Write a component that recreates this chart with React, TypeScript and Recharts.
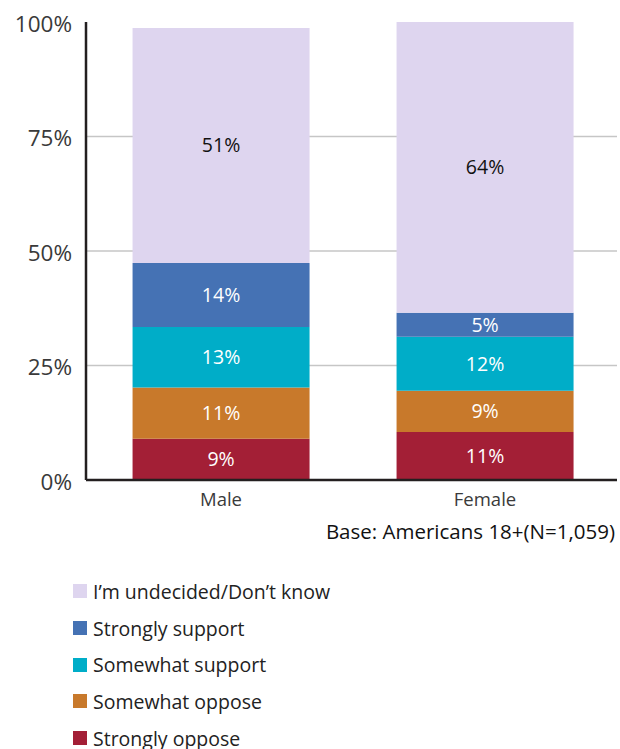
import { BarChart, Bar, XAxis, YAxis, CartesianGrid, LabelList } from "recharts";

const categories = ["Male", "Female"];

const strongOppose = [9.0, 10.5];
const somewhatOppose = [11.2, 9.0];
const somewhatSupport = [13.2, 11.8];
const strongSupport = [14.0, 5.2];
const undecided = [51.3, 63.5];

const yTicks = [0, 25, 50, 75, 100];

const series = [
  { key: "strongOppose", name: "Strongly oppose", color: "#A31F36", text: "#fff", values: strongOppose },
  { key: "somewhatOppose", name: "Somewhat oppose", color: "#C8792B", text: "#fff", values: somewhatOppose },
  { key: "somewhatSupport", name: "Somewhat support", color: "#00ADC8", text: "#fff", values: somewhatSupport },
  { key: "strongSupport", name: "Strongly support", color: "#4572B4", text: "#fff", values: strongSupport },
  { key: "undecided", name: "I\u2019m undecided/Don\u2019t know", color: "#DED5EF", text: "#111", values: undecided },
];

const data = categories.map((c, i) => {
  const row: Record<string, any> = { name: c };
  series.forEach((s) => (row[s.key] = s.values[i]));
  return row;
});

const font = "'Open Sans', 'Noto Sans', sans-serif";

const gridLine = (p: any) =>
  p.y1 < 30 || p.y1 > 470 ? <g key={p.key} /> : (
    <line key={p.key} x1={p.x1} x2={p.x2} y1={p.y1} y2={p.y2} stroke="#C6C6C6" strokeWidth={1.5} />
  );

export default function App() {
  return (
    <div style={{ position: "absolute", left: 0, top: 0, width: 620, height: 749, fontFamily: font, background: "#fff", overflow: "hidden" }}>
      <BarChart
        width={620}
        height={520}
        data={data}
        margin={{ top: 22, right: 3, bottom: 10, left: 0 }}
        barCategoryGap="16.5%"
      >
        <CartesianGrid vertical={false} horizontal={gridLine} />
        <XAxis
          dataKey="name"
          height={30}
          tickLine={false}
          tickSize={0}
          tickMargin={13}
          axisLine={{ stroke: "#231F20", strokeWidth: 2.5 }}
          tick={{ fill: "#3A3A3A", fontSize: 18.5, fontFamily: font }}
          padding={{ left: 3, right: 0 }}
        />
        <YAxis
          width={86}
          domain={[0, 100]}
          ticks={yTicks}
          tickFormatter={(v) => `${v}%`}
          tickLine={false}
          tickSize={0}
          tickMargin={14}
          axisLine={{ stroke: "#231F20", strokeWidth: 2.5 }}
          tick={{ fill: "#3A3A3A", fontSize: 22.5, fontFamily: font, dy: 2 }}
          allowDataOverflow
        />
        {series.map((s) => (
          <Bar key={s.key} dataKey={s.key} stackId="a" fill={s.color} isAnimationActive={false}>
            <LabelList
              dataKey={s.key}
              position="center"
              formatter={(v: any) => `${Math.round(v)}%`}
              style={{ fill: s.text, fontSize: 19.5, fontFamily: font }}
            />
          </Bar>
        ))}
      </BarChart>
      <div
        style={{
          position: "absolute",
          right: 5,
          top: 517,
          fontSize: 20.5,
          color: "#111",
          whiteSpace: "nowrap",
        }}
      >
        Base: Americans 18+(N=1,059)
      </div>
      <div style={{ position: "absolute", left: 73, top: 573 }}>
        {[...series].reverse().map((s) => (
          <div key={s.key} style={{ display: "flex", alignItems: "center", height: 36.7 }}>
            <span style={{ width: 14, height: 14, background: s.color, display: "inline-block", marginRight: 6, flexShrink: 0 }} />
            <span style={{ fontSize: 19.5, color: "#222", whiteSpace: "nowrap" }}>{s.name}</span>
          </div>
        ))}
      </div>
    </div>
  );
}
